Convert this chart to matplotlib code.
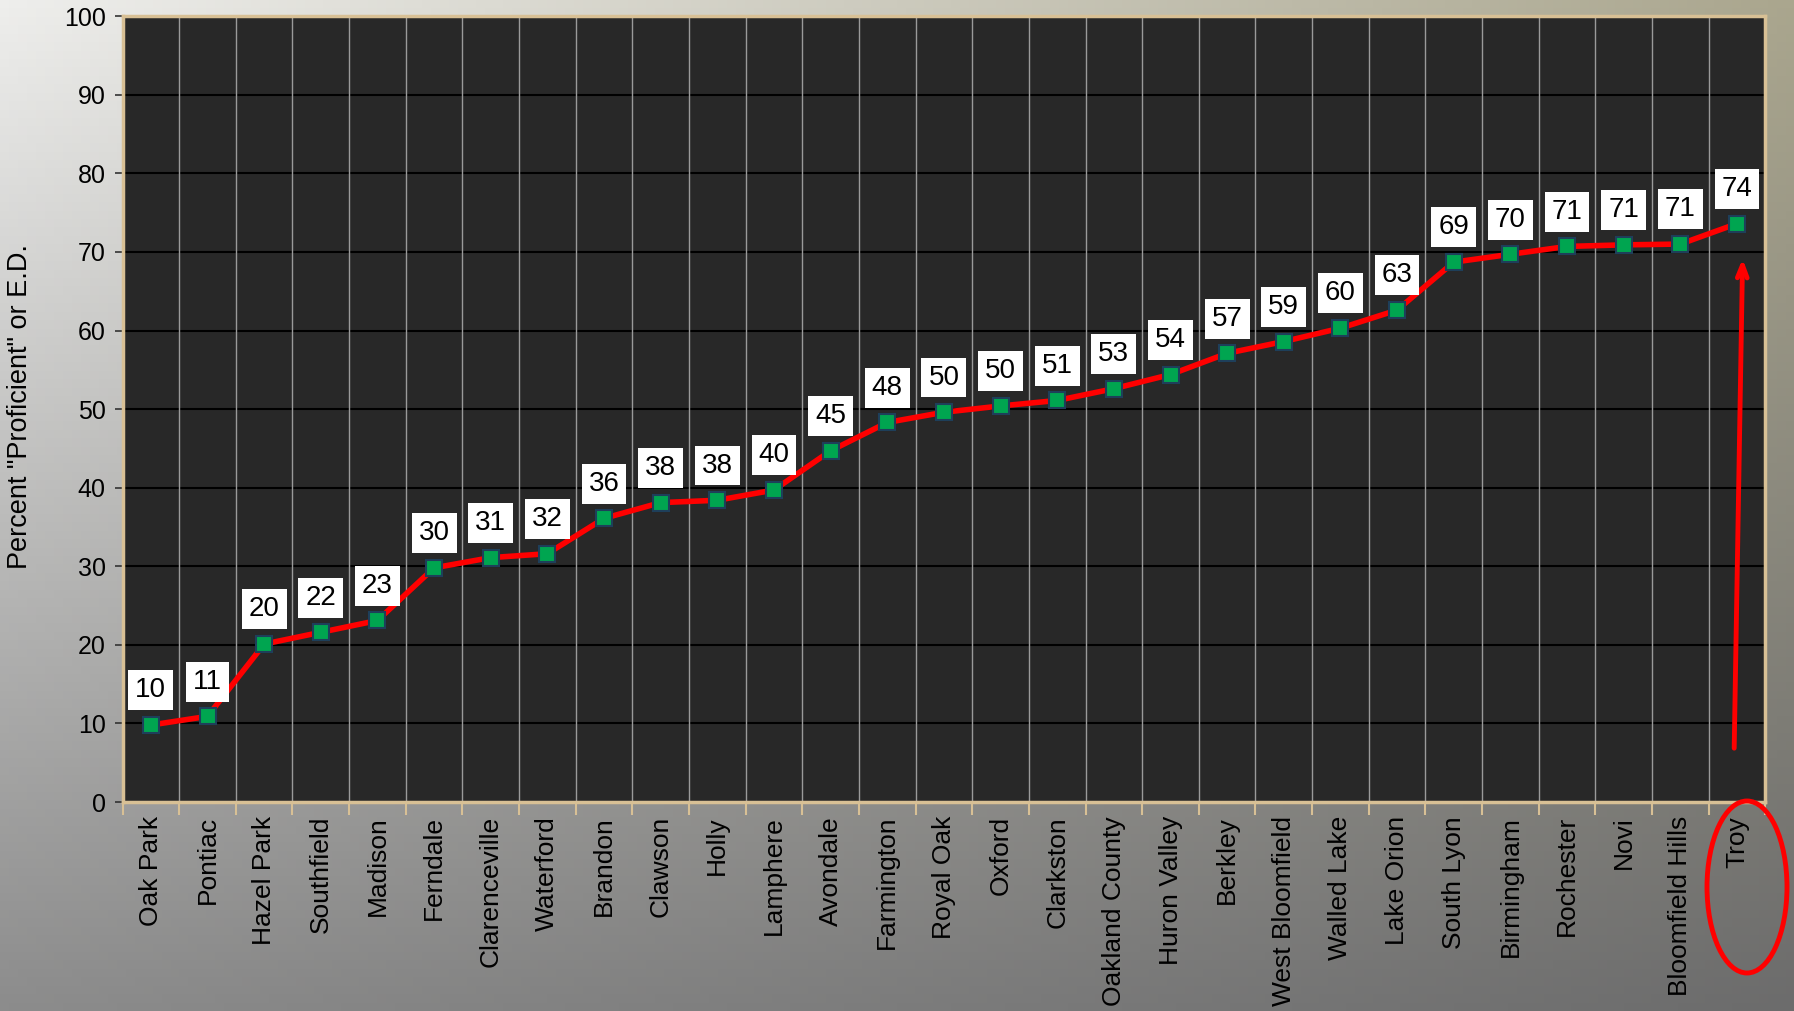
import numpy as np
import matplotlib.pyplot as plt
from matplotlib.patches import Ellipse

plt.rcParams['font.family'] = ['Liberation Sans', 'DejaVu Sans']

districts = ["Oak Park", "Pontiac", "Hazel Park", "Southfield", "Madison", "Ferndale",
             "Clarenceville", "Waterford", "Brandon", "Clawson", "Holly", "Lamphere",
             "Avondale", "Farmington", "Royal Oak", "Oxford", "Clarkston", "Oakland County",
             "Huron Valley", "Berkley", "West Bloomfield", "Walled Lake", "Lake Orion",
             "South Lyon", "Birmingham", "Rochester", "Novi", "Bloomfield Hills", "Troy"]
percent = [9.8, 10.9, 20.1, 21.6, 23.1, 29.8, 31.1, 31.6, 36.1, 38.1, 38.4, 39.7,
           44.7, 48.3, 49.6, 50.4, 51.1, 52.6, 54.4, 57.1, 58.6, 60.3, 62.6,
           68.7, 69.7, 70.7, 70.9, 71.0, 73.6]
yticks = list(range(0, 101, 10))

fig = plt.figure(figsize=(17.94, 10.11), dpi=100)

# slide background gradient
bg = fig.add_axes([0, 0, 1, 1], zorder=-10)
bg.axis('off')
tl = np.array([238, 238, 236]) / 255
tr = np.array([170, 166, 142]) / 255
bl = np.array([140, 140, 140]) / 255
br = np.array([108, 108, 108]) / 255
u = np.linspace(0, 1, 200)[None, :, None]
v = np.linspace(0, 1, 120)[:, None, None]
img = (1 - v) * ((1 - u) * tl + u * tr) + v * ((1 - u) * bl + u * br)
bg.imshow(img, aspect='auto', extent=[0, 1, 0, 1])
bg.set_xlim(0, 1)
bg.set_ylim(0, 1)

ax = fig.add_axes([0.0683, 0.2067, 0.9157, 0.7773])
ax.set_facecolor('#282828')
x = np.arange(len(districts))

ax.set_xlim(-0.5, len(districts) - 0.5)
ax.set_ylim(0, 100)
ax.set_yticks(yticks)
ax.set_yticklabels([str(t) for t in yticks], fontsize=18)
ax.set_xticks(x)
ax.set_xticklabels(districts, rotation=90, fontsize=19, va='top', ha='center')
ax.set_xticks(np.arange(len(districts) + 1) - 0.5, minor=True)
ax.tick_params(axis='x', which='major', length=0, pad=10)
ax.tick_params(axis='x', which='minor', length=9, color='#d8c095', width=1.5)
ax.tick_params(axis='y', length=6, color='#333333', width=1.2, pad=6)

for t in yticks[1:]:
    ax.axhline(t, color='black', lw=1.5, zorder=1)
for b in np.arange(1, len(districts)) - 0.5:
    ax.axvline(b, color='#9a9a9a', lw=1, zorder=1)

for s in ax.spines.values():
    s.set_color('#d8c095')
    s.set_linewidth(2.5)

ax.plot(x, percent, color='#ff0000', lw=4, zorder=3,
        marker='s', markersize=11, markerfacecolor='#00a550',
        markeredgecolor='#1e3f5a', markeredgewidth=1.5)

for xi, p in zip(x, percent):
    ax.annotate(f"{p:.0f}", (xi, p), xytext=(0, 25), textcoords='offset points',
                ha='center', va='center', fontsize=20, color='black', zorder=5,
                bbox=dict(boxstyle='square,pad=0.25', fc='white', ec='none'))

# arrow pointing at Troy
ax.annotate("", xy=(28.1, 69.5), xytext=(27.95, 6.5),
            arrowprops=dict(arrowstyle='->,head_length=0.9,head_width=0.35',
                            color='#ff0000', lw=3.5), zorder=6)

fig.text(0.011, 0.598, 'Percent "Proficient" or E.D.', rotation=90,
         ha='center', va='center', fontsize=19.5)

fig.add_artist(Ellipse((1747 / 1794, 1 - 887 / 1011), 80 / 1794, 172 / 1011,
                       transform=fig.transFigure, fill=False, ec='#ff0000', lw=3.5))

fig.savefig('out.png', dpi=100)
